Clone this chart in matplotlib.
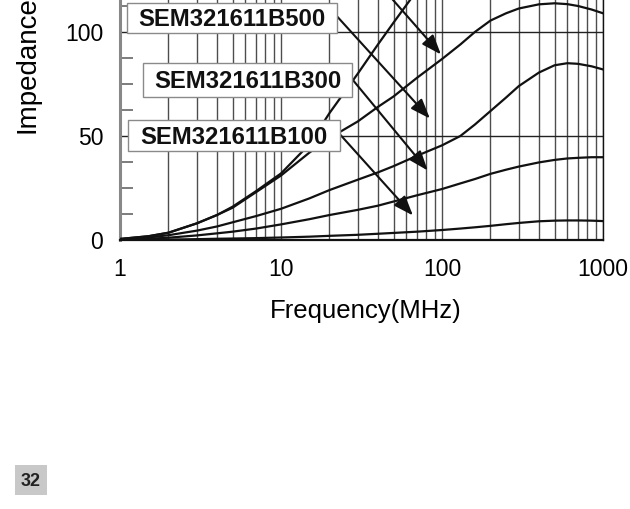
import matplotlib
matplotlib.use('Agg')
import matplotlib.pyplot as plt
from matplotlib.patches import Rectangle
from matplotlib.ticker import FixedLocator, MultipleLocator, NullFormatter, FixedFormatter

plt.rcParams['font.family'] = ['Liberation Sans', 'DejaVu Sans']

# ---- data ----
freq = [1, 1.5, 2, 3, 4, 5, 7, 10, 15, 20, 30, 40, 50, 70, 100, 130, 160, 200, 250, 300, 400, 500, 600, 700, 850, 1000]
freq_steep = [1, 1.5, 2, 3, 4, 5, 7, 10, 15, 20, 30, 40, 50, 70, 100]
z_steep = [0.5, 1.8, 3.5, 8, 12, 16, 23.5, 32, 46, 61, 80, 94, 104.5, 120, 140]
z_top = [0.5, 1.8, 3.5, 8, 12, 15.5, 23, 31, 42, 49, 57, 64, 69, 78, 87, 94, 100, 105.5, 109, 111.3, 113.3, 113.8, 113.4, 112.5, 110.8, 109]
z_b500 = [0.3, 1.2, 2.3, 4.5, 6.5, 8.5, 11.5, 15, 20, 24, 29, 32.5, 35.5, 40.5, 45.5, 50, 55.5, 62, 68.5, 74, 80.5, 84, 85, 84.7, 83.5, 82]
z_b300 = [0.2, 0.6, 1.1, 2.2, 3.2, 4, 5.5, 7.5, 10, 12, 14.5, 16.5, 18.5, 21.5, 24.5, 27.2, 29.3, 31.8, 33.8, 35.3, 37.3, 38.5, 39.2, 39.5, 39.8, 39.8]
z_b100 = [0, 0.1, 0.2, 0.4, 0.6, 0.7, 0.9, 1.2, 1.6, 2, 2.5, 3, 3.4, 4, 4.8, 5.5, 6.1, 6.8, 7.6, 8.2, 9, 9.3, 9.4, 9.4, 9.3, 9.1]

x_ticks = [1, 10, 100, 1000]
x_tick_labels = ['1', '10', '100', '1000']
y_ticks = [0, 50, 100]
y_tick_labels = ['0', '50', '100']

labels = ['SEM321611B500', 'SEM321611B300', 'SEM321611B100']
# arrow (start, tip) in data coords: (freq, impedance)
arrow_start = [(22.3, 107.5), (28.1, 76.7), (23.3, 50.7), (25.0, 141.6)]
arrow_tip = [(84.1, 58.4), (81.5, 33.4), (66.0, 11.8), (98.5, 89.2)]

# ---- figure ----
W, H = 630, 509
fig = plt.figure(figsize=(W / 100, H / 100), dpi=100)
ax = fig.add_axes([120 / W, 1 - 240 / H, (603 - 120) / W, 240 / H])
ax.set_xscale('log')
ax.set_xlim(1, 1000)
ax.set_ylim(0, 240 / 2.08)

lw = 1.6
for z, f in [(z_steep, freq_steep), (z_top, freq), (z_b500, freq), (z_b300, freq), (z_b100, freq)]:
    ax.plot(f, z, color='#111111', lw=lw, solid_joinstyle='round', zorder=3)

# ticks / grid
ax.xaxis.set_major_locator(FixedLocator(x_ticks))
ax.xaxis.set_major_formatter(FixedFormatter(x_tick_labels))
minor_x = [m * d for d in (1, 10, 100) for m in range(2, 10)]
ax.xaxis.set_minor_locator(FixedLocator(minor_x))
ax.xaxis.set_minor_formatter(NullFormatter())
ax.yaxis.set_major_locator(FixedLocator(y_ticks))
ax.yaxis.set_major_formatter(FixedFormatter(y_tick_labels))
ax.yaxis.set_minor_locator(MultipleLocator(12.5))

ax.tick_params(axis='x', which='both', length=0, pad=13, labelsize=16.5)
ax.tick_params(axis='y', which='major', length=0, pad=12, labelsize=16.5)
ax.tick_params(axis='y', which='minor', direction='in', length=9, width=1.2, color='#666666')

ax.grid(True, which='both', axis='x', color='#4d4d4d', lw=1.0, zorder=1)
ax.grid(True, which='major', axis='y', color='#222222', lw=1.0, zorder=1)
ax.set_axisbelow(True)

ax.spines['top'].set_visible(False)
ax.spines['left'].set_color('#888888')
ax.spines['left'].set_linewidth(2.2)
ax.spines['bottom'].set_color('#111111')
ax.spines['bottom'].set_linewidth(1.6)
ax.spines['right'].set_color('#111111')
ax.spines['right'].set_linewidth(1.0)

# arrows
for s, t in zip(arrow_start, arrow_tip):
    ax.annotate('', xy=t, xytext=s, xycoords='data', textcoords='data',
                annotation_clip=False,
                arrowprops=dict(arrowstyle='-|>,head_length=0.8,head_width=0.3',
                                mutation_scale=15, color='#111111', lw=1.5,
                                shrinkA=0, shrinkB=0), zorder=4)

# axis labels
fig.text(366 / W, 1 - 311 / H, 'Frequency(MHz)', ha='center', va='center', fontsize=18.5)
fig.text(28 / W, 1 - 133 / H, 'Impedance(Ω)', ha='center', va='bottom', rotation=90, fontsize=20)

# label boxes (pixel layout: x0, x1, y0, y1, from top-left)
boxes = [(127, 337, 3, 33), (143, 352, 63, 97), (128, 340, 120, 151)]
for (x0, x1, y0, y1), lab in zip(boxes, labels):
    fig.patches.append(Rectangle((x0 / W, 1 - y1 / H), (x1 - x0) / W, (y1 - y0) / H,
                                 transform=fig.transFigure, facecolor='white',
                                 edgecolor='#8a8a8a', lw=1.0, zorder=5))
    yc = (y0 + y1) / 2
    fig.text((x0 + x1) / 2 / W, 1 - (yc + 8.5) / H, lab, ha='center', va='baseline',
             fontsize=17.2, fontweight='bold', color='#111111', zorder=6)

# page number
fig.patches.append(Rectangle((15 / W, 1 - 495 / H), 32 / W, 30 / H, transform=fig.transFigure,
                             facecolor='#c8c8c8', edgecolor='none', zorder=5))
fig.text(31 / W, 1 - 481 / H, '32', ha='center', va='center', fontsize=13,
         fontweight='bold', color='#222222', zorder=6)

fig.savefig('out.png', dpi=100)
